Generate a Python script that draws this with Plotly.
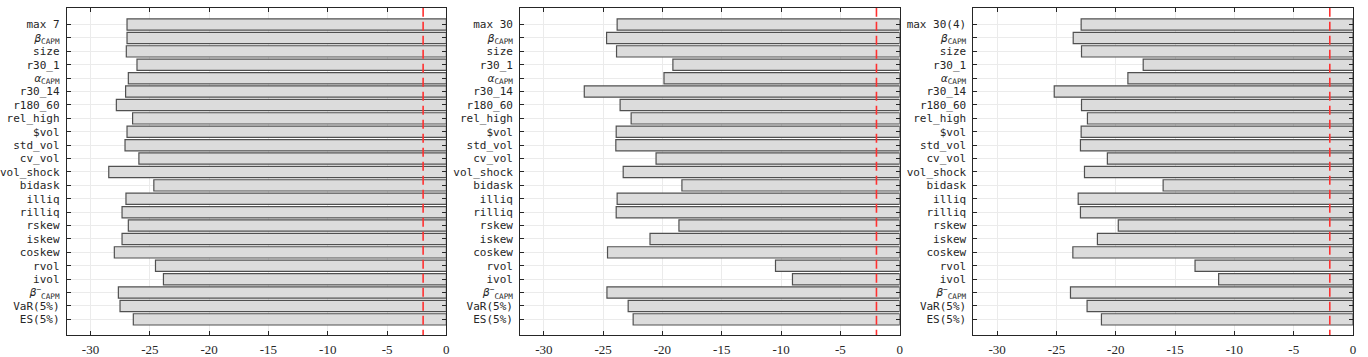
import plotly.graph_objects as go

MONO = "DejaVu Sans Mono"
SERIF = "Liberation Serif"

def greek(sym, sub, sup=None):
    s = f"<i>{sym}</i>"
    if sup:
        s += f"<sup>{sup}</sup>"
    s += f"<sub>{sub}</sub>"
    return s

common_labels = [
    greek("β", "CAPM"), "size", "r30_1", greek("α", "CAPM"), "r30_14", "r180_60",
    "rel_high", "$vol", "std_vol", "cv_vol", "vol_shock", "bidask", "illiq",
    "rilliq", "rskew", "iskew", "coskew", "rvol", "ivol",
    greek("β", "CAPM", "−"), "VaR(5%)", "ES(5%)",
]
first_labels = ["max 7", "max 30", "max 30(4)"]

vals_max7 = [-26.92, -26.92, -26.98, -26.08, -26.81, -27.04, -27.82, -26.45, -26.92,
             -27.09, -25.92, -28.46, -24.66, -27.01, -27.34, -26.81, -27.34, -27.99,
             -24.52, -23.85, -27.65, -27.51, -26.39]
vals_max30 = [-23.82, -24.71, -23.87, -19.12, -19.87, -26.59, -23.57, -22.64, -23.90,
              -23.93, -20.54, -23.31, -18.36, -23.82, -23.90, -18.61, -21.05, -24.63,
              -10.47, -9.04, -24.68, -22.89, -22.47]
vals_max30_4 = [-22.92, -23.59, -22.89, -17.69, -18.98, -25.19, -22.89, -22.39, -22.92,
                -22.98, -20.71, -22.64, -16.01, -23.17, -22.98, -19.79, -21.55, -23.62,
                -13.32, -11.33, -23.82, -22.42, -21.21]
series = [vals_max7, vals_max30, vals_max30_4]

critical_value = -1.96
x_ticks = [-30, -25, -20, -15, -10, -5, 0]

W, H = 1368, 357
x_domains = [(65, 446), (520, 901), (975, 1356)]
y_top, y_bot = 8, 336

fig = go.Figure()
for i, (first, vals) in enumerate(zip(first_labels, series)):
    labels = [first] + common_labels
    pos = list(range(len(labels)))
    xa = "x" if i == 0 else f"x{i+1}"
    ya = "y" if i == 0 else f"y{i+1}"
    fig.add_trace(go.Bar(
        x=vals, y=pos, orientation="h", width=0.84,
        marker=dict(color="#dcdcdc", line=dict(color="#505050", width=1.2)),
        xaxis=xa, yaxis=ya, showlegend=False,
    ))
    fig.add_trace(go.Scatter(
        x=[critical_value, critical_value], y=[-1.25, len(labels) + 0.2],
        mode="lines", line=dict(color="#ff3030", width=1.6, dash="9px,5px"),
        xaxis=xa, yaxis=ya, showlegend=False,
    ))
    xkey = "xaxis" if i == 0 else f"xaxis{i+1}"
    ykey = "yaxis" if i == 0 else f"yaxis{i+1}"
    d = x_domains[i]
    fig.layout[xkey] = dict(
        domain=[d[0] / W, d[1] / W], anchor=ya, range=[-32, 0],
        tickvals=x_ticks, ticktext=[str(t) for t in x_ticks],
        ticks="inside", ticklen=4, tickcolor="#262626", mirror="allticks",
        showline=True, linecolor="#262626", linewidth=1,
        showgrid=True, gridcolor="#ebebeb", gridwidth=1, zeroline=False,
        tickfont=dict(family=SERIF, size=13, color="#262626"),
        ticklabelstandoff=2,
    )
    fig.layout[ykey] = dict(
        domain=[1 - y_bot / H, 1 - y_top / H], anchor=xa,
        range=[len(labels) - 1 + 1.17, -1.24],
        tickvals=pos, ticktext=labels,
        ticks="inside", ticklen=4, tickcolor="#262626", mirror="allticks",
        showline=True, linecolor="#262626", linewidth=1,
        showgrid=True, gridcolor="#ebebeb", gridwidth=1, zeroline=False,
        tickfont=dict(family=MONO, size=11, color="#262626"),
        ticklabelstandoff=4,
    )

fig.update_layout(
    width=W, height=H, margin=dict(l=0, r=0, t=0, b=0),
    paper_bgcolor="white", plot_bgcolor="white", bargap=0.16,
)
fig.write_html("out.html")
